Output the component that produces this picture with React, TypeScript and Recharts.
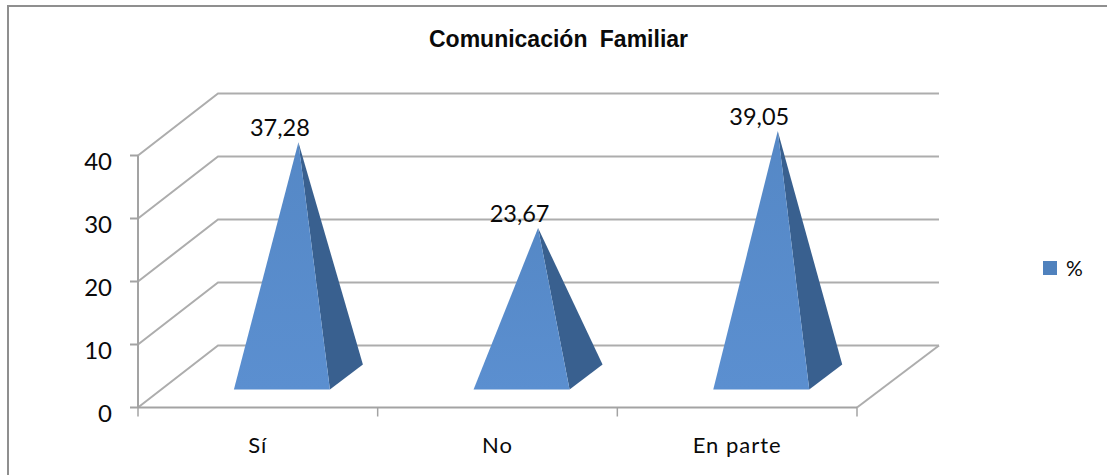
import React from 'react';
import { BarChart, Bar, XAxis, YAxis, CartesianGrid, Legend, LabelList } from 'recharts';

const categories = ['Sí', 'No', 'En parte'];
const seriesName = '%';
const seriesValues = [37.28, 23.67, 39.05];
const yTicks = [0, 10, 20, 30, 40];
const title = 'Comunicación Familiar';

const rows = categories.map((name, i) => ({ name, value: seriesValues[i] }));

const W = 1107;
const H = 475;
const Y_W = 50;
const X_H = 60;
const LEGEND_W = 50;
const M = { top: 155.5, right: 200, bottom: 7.5, left: 88 };
const plotW = W - M.left - Y_W - M.right - LEGEND_W;
const band = plotW / categories.length;
const plotBottom = H - M.bottom - X_H;
const GRID = '#adadad';
const AXIS = '#a3a3a3';
const TXT = '#0a0a0a';
const FONT = 'Lato, Carlito, sans-serif';

// Depth of the 3D floor, in pixels
const DX = 80;
const DY = -62;

function GridLine(p: any) {
  const { x1, y1, x2 } = p;
  const isFloor = Math.abs(y1 - plotBottom) < 1;
  return (
    <g key={`g-${y1}`}>
      <polyline
        points={`${x1},${y1} ${x1 + DX},${y1 + DY} ${x2 + DX + 2},${y1 + DY}`}
        fill="none"
        stroke={GRID}
        strokeWidth={2}
      />
      {isFloor && (
        <line x1={x2} y1={y1} x2={x2 + DX + 2} y2={y1 + DY} stroke={GRID} strokeWidth={2} />
      )}
    </g>
  );
}

function Pyramid(p: any) {
  const { x, y, width, height } = p;
  const base = y + height;
  const frontY = base - 18;
  const backY = base - 43;
  const left = x + 24;
  const right = x + width + 24;
  const backRight = x + width + 57;
  const apexX = x + width / 2 + 40.5;
  const apexY = y - 30.5;
  return (
    <g>
      <polygon points={`${right},${frontY} ${backRight},${backY} ${apexX},${apexY}`} fill="#39608f" />
      <polygon points={`${left},${frontY} ${right},${frontY} ${apexX},${apexY}`} fill="url(#pyrFace)" />
    </g>
  );
}

function ValueLabel(p: any) {
  const { x, y, width, value } = p;
  return (
    <text
      x={x + width / 2 + 22}
      y={y - 36.5}
      textAnchor="middle"
      fontFamily={FONT}
      fontSize={23.5}
      fill={TXT}
    >
      {String(value).replace('.', ',')}
    </text>
  );
}

function CatTick(p: any) {
  const { x, payload, index } = p;
  const l = x - band / 2;
  const r = x + band / 2;
  const y = plotBottom;
  return (
    <g>
      <line x1={l} y1={y} x2={l} y2={y + 9} stroke={AXIS} strokeWidth={1.5} />
      {index === categories.length - 1 && <line x1={r} y1={y} x2={r} y2={y + 9} stroke={AXIS} strokeWidth={1.5} />}
      <text
        x={x}
        y={y + 45}
        textAnchor="middle"
        fontFamily={FONT}
        fontSize={22}
        letterSpacing={1}
        fill={TXT}
      >
        {payload.value}
      </text>
    </g>
  );
}

function LegendBox() {
  return (
    <div style={{ display: 'flex', alignItems: 'center', fontFamily: FONT, fontSize: 21, color: TXT }}>
      <span style={{ width: 14, height: 14, background: '#4f81bd', display: 'inline-block', marginRight: 9 }} />
      <span>{seriesName}</span>
    </div>
  );
}

export default function App() {
  return (
    <div style={{ position: 'absolute', left: 0, top: 0, width: W, height: H, background: '#fff', overflow: 'hidden' }}>
      <div
        style={{
          position: 'absolute',
          left: 7,
          top: 5,
          width: 1098,
          height: 480,
          borderLeft: '2px solid #8f8f8f',
          borderTop: '2px solid #8f8f8f',
          borderRight: '1px solid #e2e2e2',
        }}
      />
      <BarChart
        width={W}
        height={H}
        data={rows}
        margin={M}
        barCategoryGap="30%"
        style={{ position: 'absolute', left: 0, top: 0 }}
      >
        <defs>
          <linearGradient id="pyrFace" x1="0" y1="0" x2="0" y2="1">
            <stop offset="0%" stopColor="#5588c6" />
            <stop offset="100%" stopColor="#5b8fd0" />
          </linearGradient>
        </defs>
        <text
          x={558.5}
          y={46.5}
          textAnchor="middle"
          fontFamily="'Liberation Sans', Arial, sans-serif"
          fontWeight={700}
          fontSize={23}
          wordSpacing={6}
          fill={TXT}
        >
          {title}
        </text>
        <CartesianGrid horizontal={GridLine} vertical={false} />
        <XAxis
          dataKey="name"
          axisLine={{ stroke: AXIS, strokeWidth: 2 }}
          tickLine={false}
          interval={0}
          height={X_H}
          tick={CatTick}
        />
        <YAxis
          domain={[0, 40]}
          ticks={yTicks}
          width={Y_W}
          axisLine={{ stroke: AXIS, strokeWidth: 2 }}
          tickLine={{ stroke: AXIS, strokeWidth: 2 }}
          tickSize={8}
          tickMargin={18}
          tick={{ fontFamily: FONT, fontSize: 24, fill: TXT, dy: 6 }}
        />
        <Legend
          layout="vertical"
          align="right"
          verticalAlign="top"
          wrapperStyle={{ position: 'absolute', left: 1043, top: 255, width: LEGEND_W }}
          content={LegendBox}
        />
        <Bar dataKey="value" name={seriesName} shape={Pyramid} isAnimationActive={false}>
          <LabelList dataKey="value" content={ValueLabel} />
        </Bar>
      </BarChart>
    </div>
  );
}
